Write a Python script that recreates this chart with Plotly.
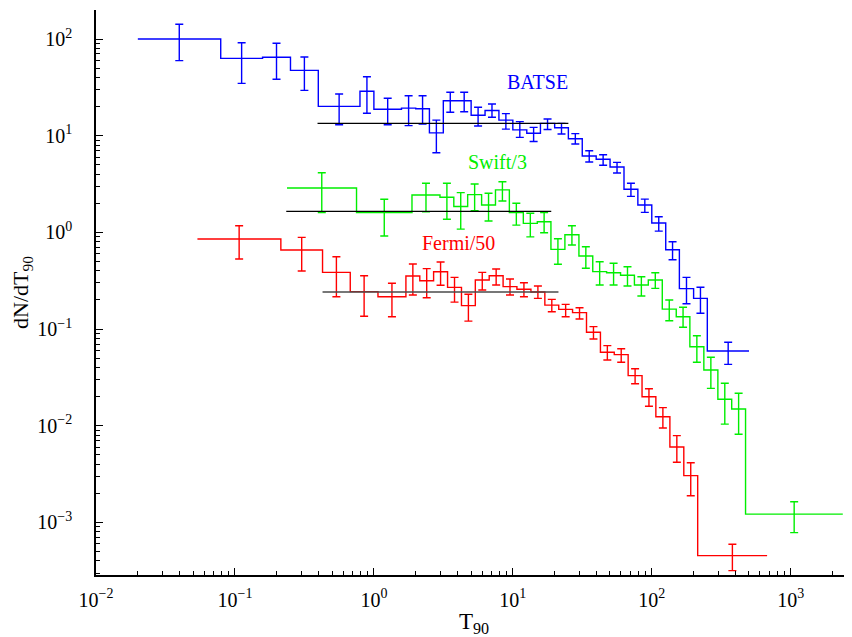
import numpy as np
import plotly.graph_objects as go

# ---------------- data ----------------
# bin edges in T90 (s)
batse_edges = [0.02, 0.079, 0.158, 0.251, 0.398, 0.794, 1.0, 1.58, 2.0, 2.51, 3.16, 3.98,
               5.01, 6.31, 7.94, 10.0, 12.6, 15.8, 20.0, 25.1, 31.6, 39.8, 50.1, 63.1,
               79.4, 100, 126, 158, 200, 251, 501]
batse_val = [100, 63.1, 64.7, 47.4, 20.1, 28.8, 18.8, 19.3, 19.0, 10.7, 23.0, 23.0, 16.3,
             18.2, 14.5, 11.5, 10.6, 13.4, 12.1, 9.3, 6.17, 5.7, 4.74, 2.79, 1.92, 1.25,
             0.662, 0.262, 0.208, 0.0594]
batse_hi = [142, 91.6, 90.3, 65.2, 27.0, 40.7, 24.4, 25.9, 25.9, 14.5, 28.1, 28.1, 19.7,
            21.3, 16.9, 14.0, 12.2, 14.9, 13.4, 10.5, 7.0, 6.36, 5.3, 3.22, 2.21, 1.45,
            0.80, 0.343, 0.271, 0.0731]
batse_lo = [59.7, 34.8, 38.3, 29.4, 13.0, 17.1, 13.0, 12.7, 13.2, 6.67, 17.5, 17.7, 12.6,
            15.5, 11.7, 9.6, 8.7, 11.6, 10.4, 8.2, 5.35, 4.94, 4.11, 2.36, 1.61, 1.03,
            0.522, 0.183, 0.146, 0.0432]

swift_edges = [0.237, 0.750, 1.88, 2.99, 3.76, 4.73, 5.96, 7.50, 9.44, 11.9, 15.0, 18.8,
               23.7, 29.9, 37.6, 47.3, 59.6, 75.0, 94.4, 119, 150, 188, 237, 299, 376,
               473, 2370]
swift_val = [2.88, 1.60, 2.44, 2.31, 1.85, 2.46, 1.92, 2.75, 1.60, 1.24, 1.29, 0.668,
             0.946, 0.570, 0.393, 0.383, 0.360, 0.286, 0.322, 0.161, 0.134, 0.0658,
             0.0378, 0.0188, 0.0149, 0.00122]
swift_hi = [4.14, 2.20, 3.22, 3.22, 2.58, 3.17, 2.54, 3.34, 2.00, 1.58, 1.60, 0.861,
            1.17, 0.711, 0.498, 0.479, 0.442, 0.348, 0.383, 0.200, 0.168, 0.0855,
            0.0511, 0.0275, 0.0217, 0.00164]
swift_lo = [1.60, 0.918, 1.63, 1.37, 1.08, 1.68, 1.31, 2.11, 1.19, 0.90, 0.99, 0.468,
            0.741, 0.426, 0.286, 0.286, 0.279, 0.220, 0.264, 0.122, 0.1045, 0.0454,
            0.0244, 0.0104, 0.00817, 0.000785]

fermi_edges = [0.0537, 0.214, 0.427, 0.676, 1.07, 1.70, 2.14, 2.69, 3.39, 4.27, 5.37,
               6.76, 8.51, 10.7, 13.5, 17.0, 21.4, 26.9, 33.9, 42.7, 53.7, 67.6, 85.1,
               107, 135, 170, 214, 676]
fermi_val = [0.855, 0.658, 0.386, 0.244, 0.216, 0.354, 0.316, 0.392, 0.270, 0.175, 0.322,
             0.356, 0.275, 0.258, 0.242, 0.177, 0.160, 0.148, 0.0927, 0.0577, 0.0544,
             0.033, 0.020, 0.0124, 0.00604, 0.00305, 0.000454]
fermi_hi = [1.17, 0.889, 0.561, 0.356, 0.298, 0.471, 0.422, 0.494, 0.343, 0.229, 0.386,
            0.419, 0.330, 0.302, 0.279, 0.203, 0.180, 0.166, 0.106, 0.0674, 0.0627,
            0.0389, 0.0242, 0.0154, 0.00791, 0.00415, 0.000596]
fermi_lo = [0.531, 0.399, 0.216, 0.136, 0.134, 0.225, 0.211, 0.284, 0.190, 0.121, 0.254,
            0.286, 0.225, 0.216, 0.208, 0.151, 0.134, 0.127, 0.079, 0.0479, 0.0454,
            0.0272, 0.0159, 0.0095, 0.0042, 0.00189, 0.000318]

# plateau (flat) lines
fit_start = [0.393, 0.234, 0.427]
fit_end = [25.1, 18.9, 21.3]
fit_level = [13.4, 1.65, 0.242]

series_names = ["BATSE", "Swift/3", "Fermi/50"]
label_x = [15.0, 7.7, 4.04]
label_y = [35.9, 5.35, 0.776]

tick_exponents = [-2, -1, 0, 1, 2, 3]
ytick_exponents = [-3, -2, -1, 0, 1, 2]

# ---------------- figure ----------------
colors = ["#0000ff", "#00ee00", "#ff0000"]
fit_colors = ["#000000", "#000000", "#4a4a4a"]
SERIF = "Liberation Serif, Times New Roman, serif"

fig = go.Figure()

data = [
    (batse_edges, batse_val, batse_hi, batse_lo),
    (swift_edges, swift_val, swift_hi, swift_lo),
    (fermi_edges, fermi_val, fermi_hi, fermi_lo),
]

for i, (edges, val, hi, lo) in enumerate(data):
    c = colors[i]
    # stepped histogram
    fig.add_trace(go.Scatter(
        x=edges, y=list(val) + [val[-1]], mode="lines",
        line=dict(color=c, width=1.4, shape="hv"), hoverinfo="skip"))
    # error bars at geometric bin centres
    e = np.array(edges, dtype=float)
    centers = np.sqrt(e[:-1] * e[1:])
    v = np.array(val)
    fig.add_trace(go.Scatter(
        x=centers, y=v, mode="markers",
        marker=dict(size=1, color=c, opacity=0),
        error_y=dict(type="data", symmetric=False,
                     array=np.array(hi) - v, arrayminus=v - np.array(lo),
                     color=c, thickness=1.4, width=4),
        hoverinfo="skip"))

for i in range(3):
    fig.add_trace(go.Scatter(
        x=[fit_start[i], fit_end[i]], y=[fit_level[i], fit_level[i]],
        mode="lines", line=dict(color=fit_colors[i], width=1.4), hoverinfo="skip"))

for i in range(3):
    fig.add_annotation(
        x=np.log10(label_x[i]), y=np.log10(label_y[i]), xref="x", yref="y",
        text=series_names[i], showarrow=False,
        font=dict(family=SERIF, size=20, color=colors[i]))

def fmt(e):
    s = str(e).replace("-", "\u2212")
    return f"10<sup>{s}</sup>"

minor_vals = [m * 10.0 ** k for k in range(-4, 4) for m in range(2, 10)]

fig.update_xaxes(
    type="log", range=[-2, 3.441],
    showline=True, linecolor="black", linewidth=1.5,
    ticks="inside", ticklen=7, tickwidth=1.2, tickcolor="black",
    tickmode="array", tickvals=[10.0 ** k for k in tick_exponents],
    ticktext=[fmt(k) for k in tick_exponents],
    tickfont=dict(family=SERIF, size=20, color="black"),
    ticklabelstandoff=6,
    minor=dict(ticks="inside", ticklen=4, tickwidth=1, tickcolor="black",
               tickmode="array", tickvals=minor_vals, showgrid=False),
    showgrid=False, zeroline=False, mirror=False,
    title=dict(text="T<sub>90</sub>", font=dict(family=SERIF, size=23, color="black"),
               standoff=5),
)
fig.update_yaxes(
    type="log", range=[-3.543, 2.300],
    showline=True, linecolor="black", linewidth=1.5,
    ticks="inside", ticklen=7, tickwidth=1.2, tickcolor="black",
    tickmode="array", tickvals=[10.0 ** k for k in ytick_exponents],
    ticktext=[fmt(k) for k in ytick_exponents],
    tickfont=dict(family=SERIF, size=20, color="black"),
    ticklabelstandoff=18,
    minor=dict(ticks="inside", ticklen=4, tickwidth=1, tickcolor="black",
               tickmode="array", tickvals=minor_vals, showgrid=False),
    showgrid=False, zeroline=False, mirror=False,
    title=dict(text="dN/dT<sub>90</sub>", font=dict(family=SERIF, size=22, color="black"),
               standoff=3),
)

# the page body adds an 8px offset, so the figure is 8px smaller on each side
fig.update_layout(
    width=844, height=629,
    margin=dict(l=88, r=0, t=2, b=62, autoexpand=False),
    plot_bgcolor="white", paper_bgcolor="white",
    showlegend=False,
)

fig.write_html("out.html")
